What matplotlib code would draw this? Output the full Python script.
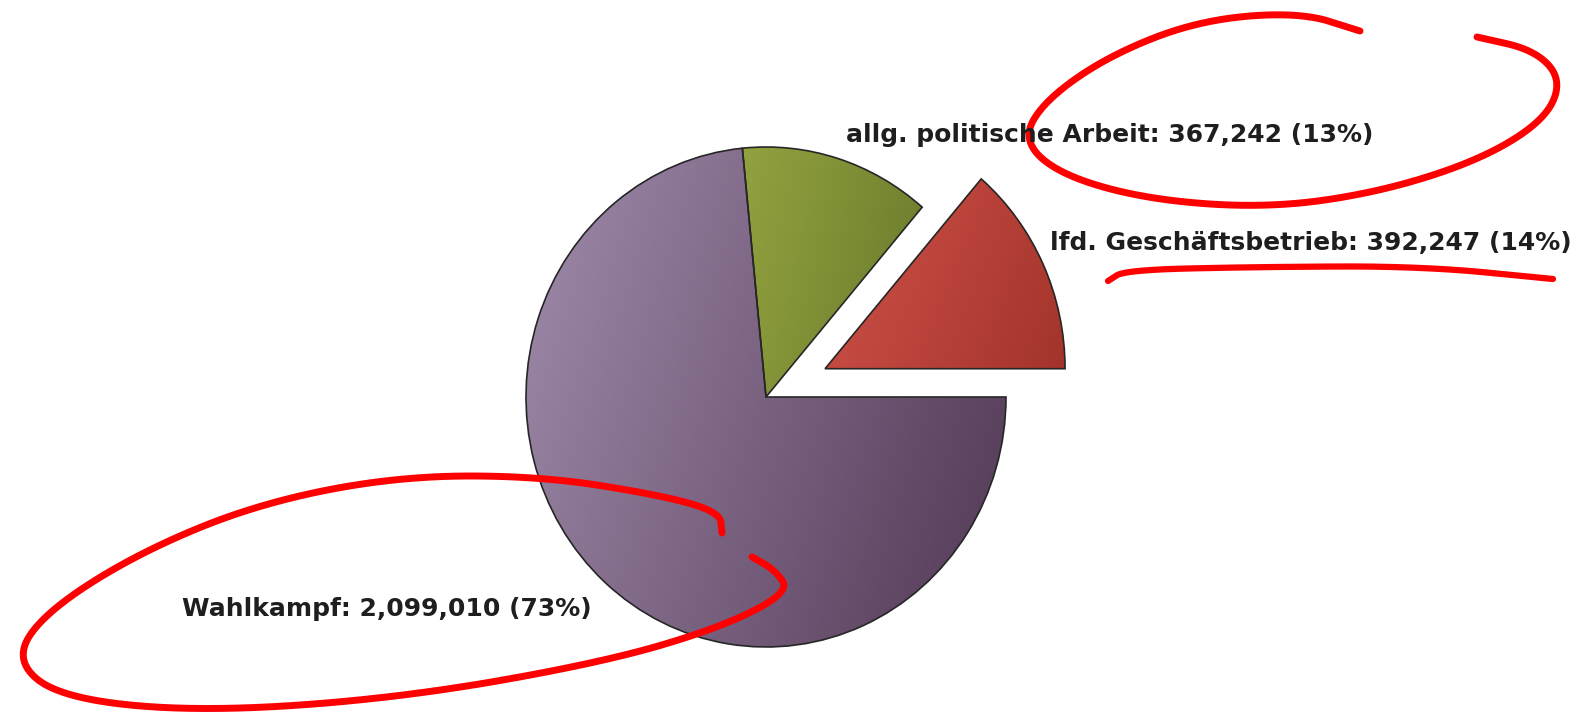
import numpy as np
import matplotlib.pyplot as plt
from matplotlib.colors import LinearSegmentedColormap

# slices, counter-clockwise from 3 o'clock
categories = ["lfd. Geschäftsbetrieb", "allg. politische Arbeit", "Wahlkampf"]
values = [392247, 367242, 2099010]
explode = [65, 0, 0]   # pie() takes this in data units here (radius = 240)
light = ["#d0524a", "#93a23f", "#a08bab"]
dark = ["#a3342b", "#687a2c", "#523955"]

W, H = 1583, 712
fig = plt.figure(figsize=(W / 100, H / 100), dpi=100)
fig.patch.set_facecolor("white")

# pie axes (y stretched a bit so the pie is slightly taller than wide)
ax = fig.add_axes([0, 0, 1, 1])
ysc = 240 / 250
cx, cy = 766, (H - 397) * ysc
wedges, _ = ax.pie(values, startangle=0, counterclock=True, explode=explode,
                   radius=240, center=(cx, cy),
                   wedgeprops=dict(edgecolor="#262626", linewidth=1.2))
ax.set_aspect("auto")
ax.set_xlim(0, W)
ax.set_ylim(0, H * ysc)
ax.axis("off")

# gradient fill clipped to each wedge
u = np.linspace(0, 1, 200)
gx, gy = np.meshgrid(u, u)
for w, c0, c1 in zip(wedges, light, dark):
    ext = w.get_path().get_extents()
    cmap = LinearSegmentedColormap.from_list("g", [c0, c1])
    z = 0.75 * gx + 0.25 * gy
    im = ax.imshow(z, extent=(ext.x0, ext.x1, ext.y0, ext.y1), origin="upper",
                   cmap=cmap, vmin=0, vmax=1, aspect="auto", zorder=0.5,
                   interpolation="bilinear")
    im.set_clip_path(w)
    w.set_facecolor("none")
    w.set_zorder(1)

# overlay in pixel coordinates for labels and the red pen marks
ov = fig.add_axes([0, 0, 1, 1])
ov.set_xlim(0, W)
ov.set_ylim(H, 0)
ov.axis("off")

total = sum(values)
labels = [f"{c}: {v:,} ({round(v / total * 100)}%)" for c, v in zip(categories, values)]
label_pos = [(1050, 243), (846, 135), (182, 609)]
for txt, (x, y) in zip(labels, label_pos):
    ov.text(x, y, txt, ha="left", va="center", fontsize=18, fontweight="bold",
            color="#1e1e1e", family="DejaVu Sans")


def smooth(pts, iters=5):
    # chaikin corner cutting, keeps the end points
    p = np.asarray(pts, float)
    for _ in range(iters):
        q = 0.75 * p[:-1] + 0.25 * p[1:]
        r = 0.25 * p[:-1] + 0.75 * p[1:]
        mid = np.empty((2 * len(q), 2))
        mid[0::2] = q
        mid[1::2] = r
        p = np.vstack([p[0], mid, p[-1]])
    return p[:, 0], p[:, 1]


loop_top = [(1360, 31), (1300, 12), (1200, 20), (1110, 55), (1045, 100),
            (1022, 140), (1060, 175), (1150, 200), (1270, 208), (1380, 192),
            (1480, 160), (1545, 120), (1562, 80), (1535, 50), (1477, 37)]
underline = [(1108, 281), (1125, 270), (1250, 267), (1420, 266), (1553, 279)]
loop_bottom = [(722, 533), (720, 512), (660, 495), (540, 476), (400, 476),
               (260, 503), (140, 552), (45, 612), (14, 660), (60, 698),
               (200, 712), (400, 698), (600, 663), (720, 628), (790, 592),
               (775, 570), (752, 557)]

pen = dict(color="#ff0000", solid_capstyle="round", solid_joinstyle="round")
for stroke, lw in [(loop_top, 5), (underline, 4.5), (loop_bottom, 5)]:
    x, y = smooth(stroke)
    ov.plot(x, y, lw=lw, **pen)

fig.savefig("out.png", dpi=100)
